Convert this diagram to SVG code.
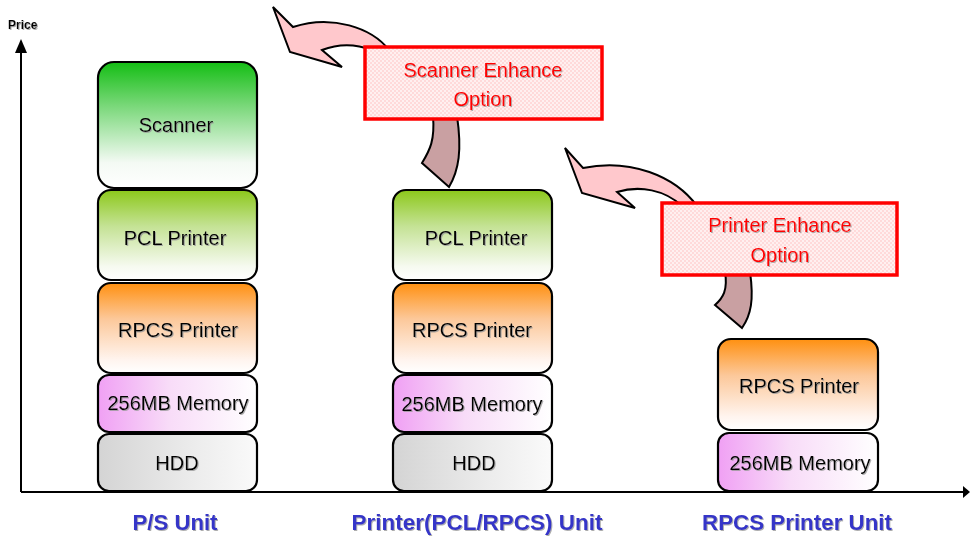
<svg xmlns="http://www.w3.org/2000/svg" width="970" height="537" viewBox="0 0 970 537">
<defs>
<linearGradient id="gScan" x1="0" y1="0" x2="0" y2="1"><stop offset="0" stop-color="#14BE14"/><stop offset="0.35" stop-color="#7AD87A"/><stop offset="0.8" stop-color="#F4FAF4"/><stop offset="1" stop-color="#FFFFFF"/></linearGradient>
<linearGradient id="gPcl" x1="0" y1="0" x2="0" y2="1"><stop offset="0" stop-color="#8CC81A"/><stop offset="0.4" stop-color="#C4E294"/><stop offset="0.85" stop-color="#F6FAF0"/><stop offset="1" stop-color="#FFFFFF"/></linearGradient>
<linearGradient id="gRpcs" x1="0" y1="0" x2="0" y2="1"><stop offset="0" stop-color="#FF9010"/><stop offset="0.4" stop-color="#FCC89A"/><stop offset="0.85" stop-color="#FFF4EE"/><stop offset="1" stop-color="#FFFFFF"/></linearGradient>
<linearGradient id="gMem" x1="0" y1="0" x2="1" y2="0"><stop offset="0" stop-color="#F0A0F4"/><stop offset="0.45" stop-color="#F8DCF8"/><stop offset="1" stop-color="#FFFFFF"/></linearGradient>
<linearGradient id="gHdd" x1="0" y1="0" x2="1" y2="0"><stop offset="0" stop-color="#D4D4D4"/><stop offset="0.6" stop-color="#ECECEC"/><stop offset="1" stop-color="#FAFAFA"/></linearGradient>
<pattern id="pBox" width="4" height="4" patternUnits="userSpaceOnUse"><rect width="4" height="4" fill="#FFF0F0"/><rect width="2" height="2" fill="#FFDADA"/><rect x="2" y="2" width="2" height="2" fill="#FFDADA"/></pattern>
<filter id="sh" x="-5%" y="-20%" width="110%" height="140%"><feDropShadow dx="1" dy="1" stdDeviation="0.4" flood-color="#999999" flood-opacity="0.8"/></filter>
</defs>
<style>
.blk{stroke:#000;stroke-width:2.2}
.t{font-family:"Liberation Sans",Arial,sans-serif;font-size:20px;fill:#000;text-anchor:middle;filter:url(#sh)}
.opt{fill:url(#pBox);stroke:#FF0000;stroke-width:3.5}
.ot{font-family:"Liberation Sans",Arial,sans-serif;font-size:20px;fill:#FF0000;text-anchor:middle;filter:url(#sh)}
.head{fill:#FFC8CC;stroke:#000;stroke-width:2;stroke-linejoin:miter}
.tail{fill:#C9A0A2;stroke:#000;stroke-width:2}
.lab{font-family:"Liberation Sans",Arial,sans-serif;font-size:22px;font-weight:bold;fill:#3535C8;text-anchor:middle;filter:url(#sh)}
</style>
<rect width="970" height="537" fill="#FFFFFF"/>

<g id="axes">
<line x1="21" y1="492" x2="21" y2="52" stroke="#000" stroke-width="2"/>
<polygon points="21,39 15,53 27,53" fill="#000"/>
<line x1="21" y1="492" x2="964" y2="492" stroke="#000" stroke-width="2"/>
<polygon points="970,492 963,486 963,498" fill="#000"/>
<text x="8" y="29" font-family="Liberation Sans, Arial, sans-serif" font-size="12" font-weight="bold" fill="#000" filter="url(#sh)">Price</text>
</g>

<g id="connectors">
<path class="head" d="M 389,50 C 372,28 332,14 293,27 L 273,7 L 290,52 L 342,67 L 322,50 C 340,43 356,44 372,50 Z"/>
<path class="tail" d="M 433,116 C 435,140 430,150 422,163 L 449,187 C 459,170 462,150 457,116 Z"/>
<path class="head" d="M 697,206 C 675,176 630,158 583,168 L 565,148 L 582,193 L 635,208 L 617,192 C 640,185 665,190 682,206 Z"/>
<path class="tail" d="M 725,272 C 728,290 723,298 715,305 L 742,328 C 751,315 754,300 750,272 Z"/>
</g>

<g id="ps-scanner"><rect class="blk" x="98" y="62" width="159" height="126" rx="16" fill="url(#gScan)"/><text class="t" x="176" y="132">Scanner</text></g>
<g id="ps-pcl"><rect class="blk" x="98" y="190" width="159" height="90" rx="13" fill="url(#gPcl)"/><text class="t" x="175" y="245">PCL Printer</text></g>
<g id="ps-rpcs"><rect class="blk" x="98" y="283" width="159" height="90" rx="13" fill="url(#gRpcs)"/><text class="t" x="178" y="337">RPCS Printer</text></g>
<g id="ps-mem"><rect class="blk" x="98" y="375" width="159" height="57" rx="11" fill="url(#gMem)"/><text class="t" x="178" y="410">256MB Memory</text></g>
<g id="ps-hdd"><rect class="blk" x="98" y="434" width="159" height="57" rx="11" fill="url(#gHdd)"/><text class="t" x="177" y="470">HDD</text></g>

<g id="pr-pcl"><rect class="blk" x="393" y="190" width="159" height="90" rx="13" fill="url(#gPcl)"/><text class="t" x="476" y="245">PCL Printer</text></g>
<g id="pr-rpcs"><rect class="blk" x="393" y="283" width="159" height="90" rx="13" fill="url(#gRpcs)"/><text class="t" x="472" y="337">RPCS Printer</text></g>
<g id="pr-mem"><rect class="blk" x="393" y="375" width="159" height="57" rx="11" fill="url(#gMem)"/><text class="t" x="472" y="411">256MB Memory</text></g>
<g id="pr-hdd"><rect class="blk" x="393" y="434" width="159" height="57" rx="11" fill="url(#gHdd)"/><text class="t" x="474" y="470">HDD</text></g>

<g id="rp-rpcs"><rect class="blk" x="718" y="339" width="160" height="91" rx="13" fill="url(#gRpcs)"/><text class="t" x="799" y="393">RPCS Printer</text></g>
<g id="rp-mem"><rect class="blk" x="718" y="433" width="160" height="58" rx="11" fill="url(#gMem)"/><text class="t" x="800" y="470">256MB Memory</text></g>

<g id="scanner-option"><rect class="opt" x="365" y="47" width="237" height="72"/><text class="ot" x="483" y="77">Scanner Enhance</text><text class="ot" x="483" y="106">Option</text></g>
<g id="printer-option"><rect class="opt" x="662" y="203" width="235" height="72"/><text class="ot" x="780" y="232">Printer Enhance</text><text class="ot" x="780" y="262">Option</text></g>

<g id="labels">
<text class="lab" x="175" y="530" textLength="85" lengthAdjust="spacingAndGlyphs">P/S Unit</text>
<text class="lab" x="477" y="530" textLength="251" lengthAdjust="spacingAndGlyphs">Printer(PCL/RPCS) Unit</text>
<text class="lab" x="797" y="530" textLength="190" lengthAdjust="spacingAndGlyphs">RPCS Printer Unit</text>
</g>
</svg>
